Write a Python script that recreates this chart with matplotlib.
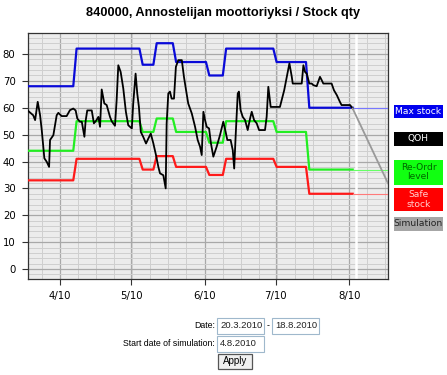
import numpy as np
import matplotlib.pyplot as plt
from matplotlib.patches import Rectangle

# Days counted from 10 April 2010
tick_days = [0, 30, 61, 91, 122]
tick_labels = ['4/10', '5/10', '6/10', '7/10', '8/10']

# Step levels (max stock, re-order level, safe stock) and the days they change
change_days = [5.6, 33.5, 39.4, 47.6, 61.6, 68.7, 90.0, 103.8]
max_stock = [68, 82, 76, 84, 77, 72, 82, 77, 60]
reorder_level = [44, 55, 51, 56, 51, 47, 55, 51, 37]
safe_stock = [33, 41, 37, 42, 38, 35, 41, 38, 28]

# Quantity on hand
qoh_days = [-13.4, -11.3, -10.5, -9.4, -8.4, -7.7, -6.6, -5.6, -4.6, -4.2, -2.8, -1.4, -0.7,
            0.7, 2.8, 4.2, 5.6, 6.6, 7.3, 8.4, 9.2, 10.3, 10.8, 11.5, 13.4, 14.3, 15.1, 16.2,
            16.9, 17.6, 18.7, 19.7, 21.1, 21.8, 23.2, 23.9, 24.6, 25.6, 26.7, 27.8, 28.8, 30.3,
            30.9, 31.9, 32.6, 33.3, 34.1, 35.1, 36.3, 37.3, 38.3, 39.4, 40.5, 41.5, 42.2, 43.6,
            44.6, 45.0, 45.7, 46.4, 47.1, 48.1, 48.9, 49.9, 51.4, 52.3, 53.2, 54.1, 55.6, 57.0,
            58.1, 59.1, 59.8, 60.5, 61.2, 61.9, 62.9, 63.7, 64.7, 66.1, 67.5, 68.9, 69.9, 70.6,
            72.0, 72.9, 73.5, 74.1, 75.0, 75.5, 76.2, 77.1, 78.1, 79.2, 80.2, 80.9, 81.9, 83.0,
            84.0, 86.5, 87.2, 87.9, 88.9, 92.8, 94.6, 96.8, 97.8, 98.2, 102.0, 102.7, 103.4,
            104.1, 105.2, 106.2, 106.9, 108.3, 109.7, 110.4, 111.1, 114.6, 115.6, 116.8, 118.1,
            118.8, 122.4, 123.5]
qoh = [58.8, 57.2, 55.4, 62.2, 57.2, 51.7, 41.2, 39.9, 38.0, 48.0, 49.8, 57.2, 58.1,
       56.9, 56.9, 59.1, 59.7, 59.0, 56.0, 54.8, 54.8, 49.2, 55.0, 59.0, 59.0, 54.2, 55.0, 56.6,
       52.9, 66.8, 61.6, 61.0, 56.6, 55.0, 53.3, 62.8, 75.8, 73.3, 67.2, 58.5, 53.5, 52.3,
       61.6, 72.7, 65.3, 60.3, 51.0, 49.2, 46.7, 48.6, 50.4, 46.7, 42.4, 38.0, 35.6, 34.9,
       30.0, 54.2, 65.3, 66.0, 63.4, 63.4, 75.2, 77.7, 77.7, 71.5, 66.5, 61.6, 57.9, 52.9,
       48.0, 45.5, 42.4, 58.5, 55.4, 52.9, 52.3, 46.7, 41.8, 45.5, 49.8, 54.8, 51.0, 48.0,
       48.0, 44.2, 37.4, 49.2, 65.3, 66.0, 59.1, 56.6, 55.4, 51.7, 56.0, 58.5, 55.4, 54.2,
       51.7, 51.7, 56.6, 67.8, 60.3, 60.3, 66.5, 76.5, 71.5, 69.0, 69.0, 75.8, 73.3,
       72.7, 69.0, 69.0, 68.4, 68.0, 71.5, 70.3, 69.0, 69.0, 66.5, 64.7, 62.2,
       61.0, 61.0, 59.7]

# Simulation (from the start of simulation to the end of the axis)
sim_days = [123.5, 138.4]
sim_qoh = [59.7, 31.9]

x_start, x_sim, x_end = -13.5, 123.5, 138.4
ramp = 1.4


def step_line(levels):
    xs, ys = [x_start], [levels[0]]
    for d, a, b in zip(change_days, levels[:-1], levels[1:]):
        xs += [d, d + ramp]
        ys += [a, b]
    xs.append(x_sim)
    ys.append(levels[-1])
    return xs, ys


fig = plt.figure(figsize=(4.47, 3.75), dpi=100)
ax = fig.add_axes([28 / 447, 1 - 279 / 375, 360 / 447, 246 / 375])
ax.set_facecolor('#ececec')

ax.set_xlim(x_start, x_end)
ax.set_ylim(-3.7, 87.8)
ax.set_xticks(tick_days)
ax.set_xticklabels(tick_labels)
ax.set_yticks(range(0, 81, 10))
ax.set_xticks(np.arange(-7.625, x_end, 7.625), minor=True)
ax.set_yticks(range(-2, 88, 2), minor=True)
ax.grid(which='major', color='#a8a8a8', lw=0.9)
ax.grid(which='minor', color='#cfcfcf', lw=0.7)
ax.tick_params(which='minor', length=0)
ax.tick_params(which='major', length=4, width=0.8, color='#333333', labelsize=7.3, pad=5)
for s in ax.spines.values():
    s.set_color('#333333')
    s.set_linewidth(0.9)

ax.axvline(x_sim + 1.2, color='white', lw=1.8, zorder=2)

series = [(max_stock, '#0a0ad8', '#7878ff'),
          (reorder_level, '#22ee22', '#66ff66'),
          (safe_stock, '#ff1a1a', '#ff7a7a')]
for levels, col, thin in series:
    xs, ys = step_line(levels)
    ax.plot(xs, ys, color=col, lw=1.6, zorder=3)
    ax.plot([x_sim, x_end], [levels[-1], levels[-1]], color=thin, lw=0.8, zorder=3)

ax.plot(qoh_days, qoh, color='black', lw=1.3, zorder=4)
ax.plot(sim_days, sim_qoh, color='#999999', lw=1.3, zorder=4)

fig.text(223 / 447, 1 - 13 / 375, '840000, Annostelijan moottoriyksi / Stock qty',
         ha='center', va='center', fontsize=9.2, fontweight='bold', family='Liberation Sans')

# Legend boxes on the right
legend = [('Max stock', '#0000ee', 'white', 105.5, 117.5),
          ('QOH', 'black', 'white', 131.5, 145.5),
          ('Re-Ordr\nlevel', '#11ff11', '#006600', 160, 184.5),
          ('Safe\nstock', '#ff0000', '#ffd0d0', 187.5, 211.5),
          ('Simulation', '#a6a6a6', '#222222', 216.5, 230.5)]
for text, bg, fg, y0, y1 in legend:
    fig.patches.append(Rectangle((394 / 447, 1 - y1 / 375), 48.5 / 447, (y1 - y0) / 375,
                                 transform=fig.transFigure, facecolor=bg, edgecolor='none'))
    fig.text(418.5 / 447, 1 - (y0 + y1) / 2 / 375, text, ha='center', va='center',
             color=fg, fontsize=6.6, linespacing=1.05)

# Date form below the chart
ff = 'Liberation Sans'
fig.text(215 / 447, 1 - 326 / 375, 'Date:', ha='right', va='center', fontsize=6.3, family=ff)
fig.text(215 / 447, 1 - 344 / 375, 'Start date of simulation:', ha='right', va='center',
         fontsize=6.3, family=ff)
fig.text(268 / 447, 1 - 326 / 375, '-', ha='center', va='center', fontsize=6.3, family=ff)
boxes = [('20.3.2010', 217, 318, 264, 334), ('18.8.2010', 272, 318, 319, 334),
         ('4.8.2010', 217, 336, 264, 352)]
for text, x0, y0, x1, y1 in boxes:
    fig.patches.append(Rectangle((x0 / 447, 1 - y1 / 375), (x1 - x0) / 447, (y1 - y0) / 375,
                                 transform=fig.transFigure, facecolor='white',
                                 edgecolor='#9fb8cc', lw=0.8))
    fig.text((x0 + 3) / 447, 1 - (y0 + y1) / 2 / 375, text, ha='left', va='center',
             fontsize=6.8, family=ff, color='#222222')
fig.patches.append(Rectangle((218 / 447, 1 - 369 / 375), 34 / 447, 15 / 375,
                             transform=fig.transFigure, facecolor='#f0f0f0',
                             edgecolor='#555555', lw=0.9))
fig.text(235 / 447, 1 - 361.5 / 375, 'Apply', ha='center', va='center', fontsize=7, family=ff)

fig.savefig('out.png', dpi=100)
